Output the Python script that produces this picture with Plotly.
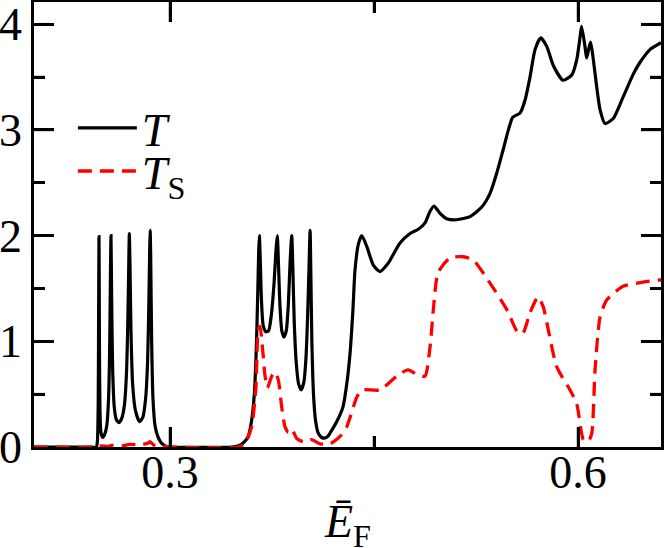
import plotly.graph_objects as go

# ---------------- data ----------------
T_x = [
    0.2000, 0.2400, 0.2458, 0.2466, 0.2472, 0.2475, 0.2478, 0.2481, 0.2485, 0.2492, 0.2505,
    0.2520, 0.2535, 0.2548, 0.2556, 0.2561, 0.2566, 0.2571, 0.2578, 0.2590, 0.2605, 0.2625,
    0.2645, 0.2665, 0.2680, 0.2690, 0.2697, 0.2701, 0.2706, 0.2713, 0.2725, 0.2745, 0.2775,
    0.2800, 0.2820, 0.2835, 0.2845, 0.2851, 0.2854, 0.2858, 0.2865, 0.2875, 0.2890, 0.2910,
    0.2935, 0.2965, 0.3000, 0.3450, 0.3500, 0.3540, 0.3575, 0.3600, 0.3620, 0.3635, 0.3645,
    0.3652, 0.3657, 0.3663, 0.3672, 0.3685, 0.3705, 0.3725, 0.3745, 0.3765, 0.3780, 0.3789,
    0.3797, 0.3808, 0.3822, 0.3838, 0.3855, 0.3870, 0.3883, 0.3895, 0.3903, 0.3913, 0.3928,
    0.3945, 0.3965, 0.3985, 0.4000, 0.4012, 0.4022, 0.4030, 0.4036, 0.4043, 0.4055, 0.4070,
    0.4090, 0.4115, 0.4140, 0.4160, 0.4176, 0.4230, 0.4272, 0.4300, 0.4324, 0.4345, 0.4360,
    0.4385, 0.4410, 0.4446, 0.4495, 0.4544, 0.4605, 0.4691, 0.4765, 0.4826, 0.4875, 0.4912,
    0.4941, 0.4985, 0.5034, 0.5108, 0.5206, 0.5292, 0.5353, 0.5402, 0.5449, 0.5488, 0.5520,
    0.5574, 0.5610, 0.5647, 0.5684, 0.5726, 0.5770, 0.5818, 0.5890, 0.5954, 0.5990, 0.6015,
    0.6026, 0.6051, 0.6063, 0.6083, 0.6093, 0.6113, 0.6137, 0.6162, 0.6199, 0.6260, 0.6331,
    0.6407, 0.6456, 0.6529, 0.6603, 0.6610,
]
T_y = [
    0.00, 0.00, 0.00, 0.05, 0.40, 1.20, 1.99, 1.00, 0.35, 0.14, 0.09,
    0.12, 0.20, 0.45, 0.90, 1.50, 2.00, 1.40, 0.75, 0.38, 0.26, 0.23,
    0.27, 0.40, 0.70, 1.20, 1.75, 2.02, 1.70, 1.10, 0.60, 0.35, 0.24,
    0.28, 0.45, 0.80, 1.40, 1.90, 2.05, 1.80, 1.00, 0.45, 0.20, 0.10,
    0.04, 0.01, 0.00, 0.00, 0.01, 0.04, 0.10, 0.25, 0.50, 0.95, 1.45,
    1.85, 2.00, 1.80, 1.40, 1.15, 1.09, 1.10, 1.25, 1.55, 1.88, 2.00,
    1.75, 1.35, 1.10, 1.04, 1.10, 1.35, 1.75, 2.00, 1.70, 1.20, 0.80,
    0.60, 0.54, 0.62, 0.85, 1.25, 1.70, 2.05, 1.60, 1.00, 0.50, 0.25,
    0.13, 0.09, 0.085, 0.10, 0.13, 0.25, 0.38, 0.60, 0.89, 1.30, 1.67,
    1.92, 2.00, 1.90, 1.72, 1.66, 1.74, 1.93, 2.02, 2.06, 2.12, 2.23,
    2.28, 2.21, 2.16, 2.15, 2.18, 2.27, 2.40, 2.59, 2.81, 3.00, 3.12,
    3.16, 3.28, 3.50, 3.76, 3.87, 3.79, 3.61, 3.47, 3.52, 3.66, 3.88,
    3.98, 3.79, 3.68, 3.79, 3.83, 3.66, 3.41, 3.19, 3.06, 3.11, 3.31,
    3.53, 3.64, 3.76, 3.82, 3.83,
]

TS_x = [
    0.2000, 0.2450, 0.2478, 0.2550, 0.2566, 0.2650, 0.2701, 0.2780, 0.2845, 0.2853, 0.2880,
    0.2950, 0.3000, 0.3500, 0.3551, 0.3600, 0.3632, 0.3649, 0.3662, 0.3679, 0.3699, 0.3716,
    0.3748, 0.3772, 0.3797, 0.3821, 0.3846, 0.3870, 0.3895, 0.3932, 0.3980, 0.4042, 0.4103,
    0.4176, 0.4250, 0.4299, 0.4324, 0.4373, 0.4410, 0.4544, 0.4667, 0.4750, 0.4824, 0.4875,
    0.4912, 0.4934, 0.4971, 0.5059, 0.5154, 0.5228, 0.5353, 0.5476, 0.5559, 0.5596, 0.5647,
    0.5706, 0.5743, 0.5843, 0.5941, 0.5990, 0.6026, 0.6039, 0.6074, 0.6101, 0.6125, 0.6162,
    0.6211, 0.6331, 0.6478, 0.6603, 0.6610,
]
TS_y = [
    0.00, 0.00, 0.01, 0.005, 0.015, 0.01, 0.025, 0.02, 0.04, 0.05, 0.02,
    0.005, 0.00, 0.00, 0.03, 0.19, 0.57, 1.11, 1.14, 0.95, 0.67, 0.56,
    0.67, 0.71, 0.63, 0.38, 0.19, 0.14, 0.17, 0.08, 0.05, 0.07, 0.03,
    0.03, 0.10, 0.19, 0.28, 0.47, 0.54, 0.54, 0.67, 0.73, 0.68, 0.67,
    0.95, 1.27, 1.65, 1.79, 1.80, 1.77, 1.55, 1.30, 1.08, 1.08, 1.27,
    1.42, 1.33, 0.76, 0.54, 0.41, 0.13, 0.07, 0.05, 0.13, 0.73, 1.23,
    1.39, 1.52, 1.56, 1.58, 1.58,
]

x_ticks = [0.3, 0.6]
x_tick_labels = ["0.3", "0.6"]
x_minor_ticks = [0.45]
y_ticks = [0, 1, 2, 3, 4]
y_tick_labels = ["0", "1", "2", "3", "4"]
y_minor_ticks = [0.5, 1.5, 2.5, 3.5]

FONT = "Liberation Serif, Times New Roman, Times, serif"
MAJOR_LEN, MINOR_LEN, TICK_W = 20, 11, 2.5

fig = go.Figure()
fig.add_trace(go.Scatter(
    x=T_x, y=T_y, mode="lines", name="<i>T</i>", legend="legend",
    line=dict(color="black", width=3.2, shape="spline", smoothing=0.6),
))
fig.add_trace(go.Scatter(
    x=TS_x, y=TS_y, mode="lines", name="<i>T</i><sub>S</sub>", legend="legend2",
    line=dict(color="red", width=3.3, dash="14px,8px", shape="spline", smoothing=0.6),
))

axis_common = dict(
    showline=True, linecolor="black", linewidth=2.5, mirror="allticks",
    ticks="inside", ticklen=MAJOR_LEN, tickwidth=TICK_W, tickcolor="black",
    showgrid=False, zeroline=False, tickmode="array",
    tickfont=dict(family=FONT, size=46, color="black"),
)

fig.update_xaxes(
    range=[0.2, 0.661], tickvals=x_ticks, ticktext=x_tick_labels,
    minor=dict(tickmode="array", tickvals=x_minor_ticks, ticklen=MINOR_LEN, tickwidth=TICK_W,
               tickcolor="black", ticks="inside"),
    ticklabelstandoff=-17,
    **axis_common,
)
fig.update_yaxes(
    range=[0, 4.21], tickvals=y_ticks, ticktext=y_tick_labels,
    minor=dict(tickmode="array", tickvals=y_minor_ticks, ticklen=MINOR_LEN, tickwidth=TICK_W,
               tickcolor="black", ticks="inside"),
    ticklabeloverflow="allow",
    **axis_common,
)

# reinforce the inside tick marks on all four sides (positions taken from the tick arrays)
tick_line = dict(color="black", width=TICK_W)
for vals, ln in ((x_ticks, MAJOR_LEN), (x_minor_ticks, MINOR_LEN)):
    for v in vals:
        for anchor, sgn in ((0, 1), (1, -1)):
            fig.add_shape(type="line", xref="x", yref="paper", ysizemode="pixel",
                          yanchor=anchor, x0=v, x1=v, y0=0, y1=sgn * ln,
                          line=tick_line, layer="above")
for vals, ln in ((y_ticks, MAJOR_LEN), (y_minor_ticks, MINOR_LEN)):
    for v in vals:
        if v <= 0:
            continue
        for anchor, sgn in ((0, 1), (1, -1)):
            fig.add_shape(type="line", xref="paper", yref="y", xsizemode="pixel",
                          xanchor=anchor, y0=v, y1=v, x0=0, x1=sgn * ln,
                          line=tick_line, layer="above")

legend_common = dict(
    xanchor="left", yanchor="middle",
    bgcolor="rgba(0,0,0,0)", borderwidth=0,
    font=dict(family=FONT, size=46, color="black"),
    itemwidth=59,
)

fig.update_layout(
    width=664, height=548,
    margin=dict(l=34, r=3, t=2, b=101, autoexpand=False),
    paper_bgcolor="white", plot_bgcolor="white",
    font=dict(family=FONT, size=46, color="black"),
    legend=dict(x=0.062, y=0.717, **legend_common),
    legend2=dict(x=0.062, y=0.620, **legend_common),
    showlegend=True,
    annotations=[dict(
        text="<i>Ē</i><sub>F</sub>", xref="paper", yref="paper",
        x=0.5, y=-0.106, xanchor="center", yanchor="top", showarrow=False,
        font=dict(family=FONT, size=46, color="black"),
    )],
)

fig.write_html(
    "out.html",
    config={"displayModeBar": False},
    post_script="document.body.style.margin='0px';",
)
